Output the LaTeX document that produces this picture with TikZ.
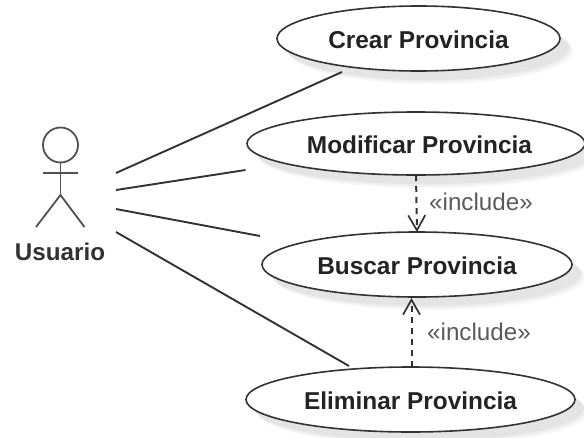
\documentclass[tikz,border=0pt]{standalone}
\usepackage{fontspec}
\setmainfont{Liberation Sans}
\usetikzlibrary{shapes.geometric,shadows,arrows.meta}
\definecolor{ink}{RGB}{50,50,50}
\definecolor{labelgray}{RGB}{90,90,90}
\definecolor{sh1}{RGB}{247,247,247}
\definecolor{sh2}{RGB}{238,238,238}
\definecolor{sh3}{RGB}{228,228,228}
\tikzset{
  usecase/.style={ellipse,draw=ink,line width=1.6pt,fill=white,inner sep=0pt,outer sep=0pt,
    text height=20.6pt,text depth=0pt,
    font=\fontsize{24.4}{28}\selectfont\bfseries,text=ink!70!black,
    general shadow={fill=sh1,shadow xshift=13pt,shadow yshift=-13pt},
    general shadow={fill=sh2,shadow xshift=11pt,shadow yshift=-11pt},
    general shadow={fill=sh3,shadow xshift=9pt,shadow yshift=-9pt}},
  assoc/.style={draw=ink,line width=1.9pt},
  incl/.style={draw=ink,line width=2pt,dash pattern=on 6pt off 5pt,
    -{Straight Barb[length=15pt,width=17pt,line width=1.7pt]}},
  actorline/.style={draw=ink!85,line width=1.8pt},
  inclabel/.style={font=\fontsize{24.2}{28}\selectfont,text=labelgray,inner sep=0pt},
  actorlabel/.style={font=\fontsize{24.2}{28}\selectfont\bfseries,text=ink,inner sep=0pt}
}
\begin{document}
\begin{tikzpicture}[x=1pt,y=-1pt]
\useasboundingbox (0,0) rectangle (584,437);
\node[usecase,minimum width=283pt,minimum height=65pt] (crear) at (418.5,38.5) {Crear Provincia};
\node[usecase,minimum width=338pt,minimum height=63pt] (modif) at (416,143.5) {\hspace*{7pt}Modificar Provincia};
\node[usecase,minimum width=310pt,minimum height=65pt] (buscar) at (417,264.5) {Buscar Provincia};
\node[usecase,minimum width=329pt,minimum height=65pt] (elim) at (410.5,399.5) {Eliminar Provincia};
% actor
\node[circle,actorline,minimum size=35pt,inner sep=0pt,outer sep=0pt] (head) at (60.5,145) {};
\coordinate (hip) at (60.5,195);
\coordinate (armL) at (43,173);
\coordinate (armR) at (78,173);
\coordinate (footL) at (36,227);
\coordinate (footR) at (84.5,227);
\draw[actorline] (head.south) -- (hip);
\draw[actorline] (armL) -- (armR);
\draw[actorline] (footL) -- (hip) -- (footR);
\node[actorlabel] (usuario) at (60,252) {Usuario};
% associations
\coordinate (a1) at (116,173);
\coordinate (a2) at (116,190);
\coordinate (a3) at (116,209);
\coordinate (a4) at (116,232);
\coordinate (e1) at (342,72);
\coordinate (e2) at (245.5,170);
\coordinate (e3) at (260,236);
\coordinate (e4) at (349,366);
\draw[assoc] (a1) -- (e1);
\draw[assoc] (a2) -- (e2);
\draw[assoc] (a3) -- (e3);
\draw[assoc] (a4) -- (e4);
% includes
\draw[incl] (modif.south) -- (buscar.north);
\coordinate (elimtop) at (411.5,367);
\coordinate (buscarbot) at (411.5,298);
\draw[incl] (elimtop) -- (buscarbot);
\node[inclabel] (inc1) at (481,201.5) {«include»};
\node[inclabel] (inc2) at (479,332) {«include»};
\end{tikzpicture}
\end{document}
